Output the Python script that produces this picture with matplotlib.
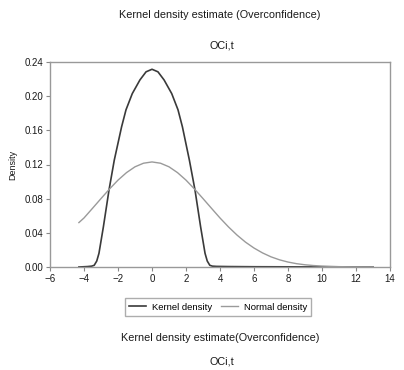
import matplotlib
matplotlib.use("Agg")
import matplotlib.pyplot as plt

# Kernel density
KERNEL_X = [-4.3, -3.8, -3.55, -3.4, -3.25, -3.12, -2.86, -2.53, -2.22, -1.79, -1.53,
            -1.16, -0.71, -0.35, 0.0, 0.35, 0.71, 1.16, 1.53, 1.79, 2.2, 2.53, 2.86,
            3.12, 3.25, 3.4, 3.55, 3.8, 4.5, 6.0, 8.0, 10.0, 13.0]
KERNEL_Y = [0.0, 0.0005, 0.001, 0.002, 0.007, 0.016, 0.047, 0.090, 0.125, 0.164, 0.184,
            0.203, 0.219, 0.2285, 0.2315, 0.2285, 0.219, 0.203, 0.184, 0.164, 0.125, 0.090, 0.047,
            0.016, 0.007, 0.002, 0.001, 0.0007, 0.0005, 0.0003, 0.0002, 0.0001, 0.0]

# Normal density
NORMAL_X = [-4.3, -4.0, -3.5, -3.0, -2.5, -2.0, -1.5, -1.0, -0.5, 0.0, 0.5, 1.0, 1.5,
            2.0, 2.5, 3.0, 3.5, 4.0, 4.5, 5.0, 5.5, 6.0, 6.5, 7.0, 7.5, 8.0, 8.5,
            9.0, 9.5, 10.0, 11.0, 12.0, 13.0]
NORMAL_Y = [0.052, 0.0574, 0.0687, 0.0801, 0.0913, 0.1017, 0.1105, 0.1173, 0.1215, 0.123,
            0.1215, 0.1173, 0.1105, 0.1017, 0.0913, 0.0801, 0.0687, 0.0574, 0.0469, 0.0374,
            0.0291, 0.0222, 0.0165, 0.0119, 0.0084, 0.0058, 0.0039, 0.0026, 0.0017, 0.0011,
            0.0004, 0.00013, 0.00003]

X_TICKS = [-6, -4, -2, 0, 2, 4, 6, 8, 10, 12, 14]
Y_TICKS = [0.00, 0.04, 0.08, 0.12, 0.16, 0.20, 0.24]

TITLE = "Kernel density estimate (Overconfidence)"
SUBTITLE = "OCi,t"
CAPTION = "Kernel density estimate(Overconfidence)"

W, H = 404, 370
plt.rcParams["font.family"] = ["Liberation Sans", "DejaVu Sans"]
TXT = "#1a1a1a"

fig = plt.figure(figsize=(W / 100, H / 100), dpi=100)
fig.patch.set_facecolor("white")

# axes box in pixels: left 50, right 390, top 62, bottom 267
ax = fig.add_axes([50 / W, 1 - 267 / H, 340 / W, 205 / H])

k_line, = ax.plot(KERNEL_X, KERNEL_Y, color="#3a3a3a", lw=1.2, label="Kernel density",
                  solid_joinstyle="round")
n_line, = ax.plot(NORMAL_X, NORMAL_Y, color="#9a9a9a", lw=1.0, label="Normal density")

ax.set_xlim(-6, 14)
ax.set_ylim(0, 0.24)
ax.set_xticks(X_TICKS)
ax.set_yticks(Y_TICKS)
ax.set_yticklabels([f"{v:.2f}" for v in Y_TICKS])
ax.tick_params(labelsize=7, labelcolor=TXT, color="#888888", length=3, width=0.8, pad=2)
for s in ax.spines.values():
    s.set_color("#999999")
    s.set_linewidth(1.0)
ax.set_ylabel("Density", fontsize=6.5, color=TXT, labelpad=5)

ax.legend(handles=[k_line, n_line], ncol=2, loc="center",
          bbox_to_anchor=(218 / W, 1 - 307 / H), bbox_transform=fig.transFigure,
          fontsize=6.8, frameon=True, fancybox=False, edgecolor="#999999",
          handlelength=1.8, handletextpad=0.6, columnspacing=1.0,
          borderpad=0.45)

fig.text(220 / W, 1 - 15 / H, TITLE, ha="center", va="center", fontsize=7.8, color=TXT)
fig.text(222 / W, 1 - 45 / H, SUBTITLE, ha="center", va="center", fontsize=7.8, color=TXT)
fig.text(220 / W, 1 - 338 / H, CAPTION, ha="center", va="center", fontsize=7.8, color=TXT)
fig.text(222 / W, 1 - 361 / H, SUBTITLE, ha="center", va="center", fontsize=7.8, color=TXT)

fig.savefig("out.png", dpi=100, facecolor="white")
